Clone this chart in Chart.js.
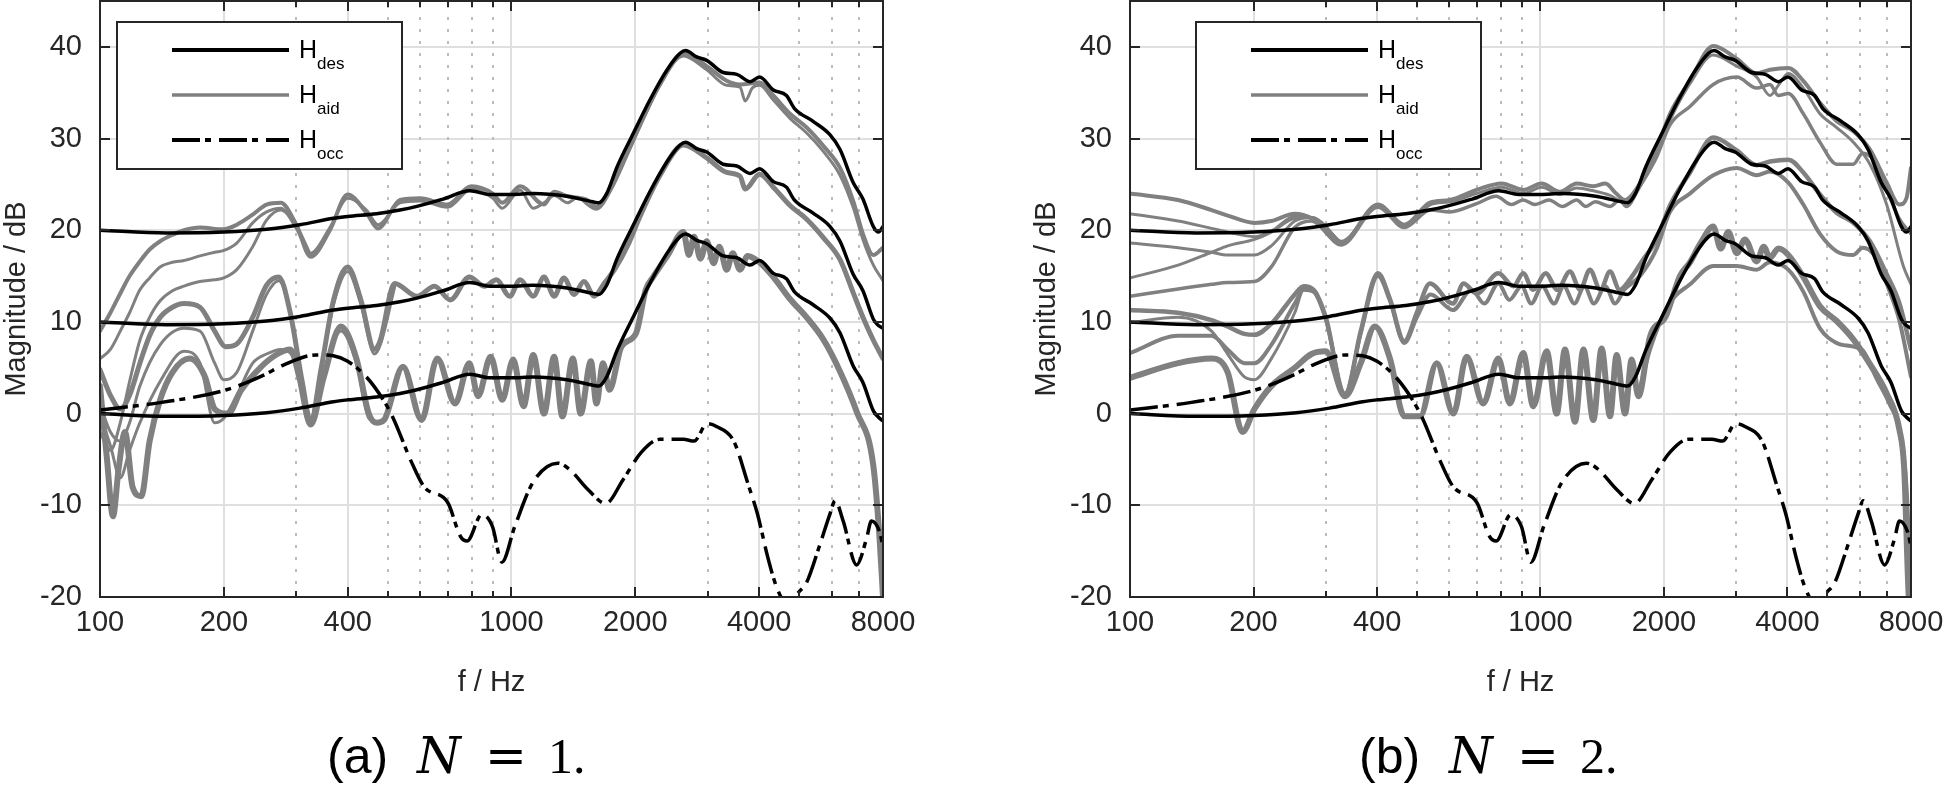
<!DOCTYPE html>
<html lang="en">
<head>
<meta charset="UTF-8">
<title>Magnitude responses</title>
<script src="https://cdn.jsdelivr.net/npm/chart.js"></script>
<style>
    body {
        margin: 0;
        background: #fff;
        width: 1946px;
        height: 788px;
        position: relative;
        overflow: hidden;
    }
    canvas { position: absolute; top: 0; }
    #left { left: 0; }
    #right { left: 1030px; }
    .cap {
        position: absolute;
        top: 726px;
        font-family: 'Liberation Serif', serif;
        font-size: 50px;
        line-height: 60px;
        white-space: nowrap;
        color: #000;
    }
    .cap .sf { display: inline-block; width: 90px; font-family: 'Liberation Sans', sans-serif; }
    .cap .n { display: inline-block; width: 68px; font-style: italic; font-family: 'DejaVu Serif', serif; font-weight: 300; }
    .cap .eq { display: inline-block; width: 63px; font-family: 'DejaVu Serif', serif; }
</style>
</head>
<body>
<canvas id="left" width="940" height="700"></canvas>
<canvas id="right" width="916" height="700"></canvas>
<div class="cap" style="left:327px"><span class="sf">(a)</span><span class="n">N</span><span class="eq">=</span><span>1.</span></div>
<div class="cap" style="left:1359px"><span class="sf">(b)</span><span class="n">N</span><span class="eq">=</span><span>2.</span></div>

<script>
// axis ticks
const xTicks = [100, 200, 400, 1000, 2000, 4000, 8000];
const xMinor = [300, 500, 600, 700, 800, 900, 3000, 5000, 6000, 7000];
const yTicks = [-20, -10, 0, 10, 20, 30, 40];

// H_des (same in both panels), [f in Hz, dB]
const desTop = [[100,20.0],[145,19.7],[200,19.8],[254,20.1],[306,20.6],[369,21.3],[400,21.5],[470,21.8],[536,22.2],[589,22.6],[682,23.4],[792,24.3],[886,23.9],[1000,23.9],[1128,24.0],[1364,23.7],[1578,23.1],[1630,23.0],[1704,24.0],[1806,26.9],[1980,30.6],[2170,34.2],[2390,37.5],[2570,39.3],[2650,39.6],[2820,38.9],[2990,38.5],[3270,37.2],[3530,37.0],[3800,36.2],[4010,36.7],[4330,35.3],[4660,34.7],[4870,33.3],[5400,31.9],[5950,30.4],[6290,28.8],[6770,25.2],[7150,23.4],[7580,20.4],[7800,19.8],[8000,20.4]];
const desMid = [[100,10.0],[145,9.7],[200,9.8],[254,10.1],[306,10.6],[369,11.3],[400,11.5],[470,11.8],[536,12.2],[589,12.6],[682,13.4],[792,14.3],[886,13.9],[1000,13.9],[1128,14.0],[1364,13.7],[1578,13.1],[1630,13.0],[1704,14.0],[1806,16.9],[1980,20.6],[2170,24.2],[2390,27.5],[2570,29.3],[2650,29.6],[2820,28.9],[2990,28.5],[3270,27.2],[3530,27.0],[3800,26.2],[4010,26.7],[4330,25.3],[4660,24.7],[4870,23.3],[5400,21.9],[5950,20.4],[6290,18.8],[6770,15.2],[7150,13.4],[7580,10.3],[7800,9.6],[8000,9.3]];
const desBot = [[100,0.0],[145,-0.3],[200,-0.2],[254,0.1],[306,0.6],[369,1.3],[400,1.5],[470,1.8],[536,2.2],[589,2.6],[682,3.4],[792,4.3],[886,3.9],[1000,3.9],[1128,4.0],[1364,3.7],[1578,3.1],[1630,3.0],[1704,4.0],[1806,6.9],[1980,10.6],[2170,14.2],[2390,17.5],[2570,19.3],[2650,19.6],[2820,18.9],[2990,18.5],[3270,17.2],[3530,17.0],[3800,16.2],[4010,16.7],[4330,15.3],[4660,14.7],[4870,13.3],[5400,11.9],[5950,10.4],[6290,8.8],[6770,5.2],[7150,3.4],[7580,0.3],[7800,-0.4],[8000,-0.8]];

// H_occ
const occCurve = [[100,0.4],[140,1.2],[203,2.6],[250,4.2],[279,5.3],[336,6.4],[369,6.3],[400,5.7],[444,4.0],[488,1.5],[516,-0.5],[573,-5.4],[614,-8.0],[700,-9.7],[752,-13.4],[780,-13.9],[847,-11.0],[899,-12.3],[948,-16.2],[1019,-12.3],[1128,-7.5],[1295,-5.4],[1385,-6.1],[1536,-8.3],[1695,-9.8],[1868,-7.2],[2070,-4.2],[2297,-2.8],[2617,-2.8],[2780,-3.0],[2990,-1.1],[3150,-1.4],[3470,-3.0],[3760,-7.7],[3960,-10.9],[4200,-15.7],[4400,-18.8],[4600,-20.5],[4800,-20.8],[4950,-19.7],[5220,-18.4],[5600,-14.5],[5950,-10.9],[6120,-9.5],[6400,-11.7],[6900,-16.5],[7290,-13.7],[7500,-11.7],[7850,-12.9],[8000,-14.5]];

// H_aid, panel (a) N = 1
const aTopA = [[100,9.0],[106,11.0],[112,13.1],[118,15.0],[125,16.6],[132,17.9],[140,18.8],[150,19.5],[160,20.0],[175,20.3],[199,20.1],[215,20.6],[235,21.7],[254,22.8],[275,23.0],[300,20.6],[325,17.1],[362,20.0],[400,23.9],[444,21.9],[474,20.2],[536,23.3],[600,23.5],[699,22.8],[800,24.8],[901,24.0],[950,23.0],[1050,24.8],[1200,22.8],[1270,24.2],[1370,23.7],[1530,23.3],[1609,22.6],[1751,24.8],[1929,28.8],[2053,31.5],[2297,36.0],[2617,39.3],[2983,37.9],[3336,36.3],[3594,35.9],[4010,36.1],[4331,34.7],[4754,32.7],[5219,31.2],[5728,29.2],[6290,26.8],[6770,23.2],[7150,19.6],[7580,17.3],[8000,18.1]];
const aTopB = [[100,6.0],[106,7.0],[112,9.0],[118,11.0],[125,13.5],[132,14.8],[140,16.0],[150,16.5],[160,16.7],[175,17.2],[190,17.6],[200,17.8],[215,18.6],[235,20.8],[254,22.0],[275,22.4],[300,20.2],[325,17.5],[362,20.3],[400,23.5],[444,22.2],[474,20.6],[536,23.0],[600,23.2],[699,22.5],[800,24.5],[901,23.5],[950,22.4],[1050,24.4],[1130,22.4],[1200,23.0],[1270,23.8],[1370,23.0],[1450,23.6],[1530,22.8],[1609,22.3],[1751,24.5],[1929,28.6],[2053,31.3],[2297,35.8],[2617,39.0],[2983,37.5],[3336,35.8],[3594,35.6],[3700,34.1],[3850,35.5],[4010,35.8],[4331,34.2],[4754,32.2],[5219,30.6],[5728,28.6],[6290,26.0],[6770,22.5],[7150,19.0],[7580,16.2],[8000,14.5]];
const aTopC = [[100,-2.0],[106,-4.0],[112,-1.0],[118,3.5],[125,8.0],[132,10.5],[140,12.3],[150,13.4],[160,13.9],[175,14.4],[190,14.6],[200,14.8],[215,15.7],[235,18.2],[254,21.1],[275,22.2],[300,20.5],[325,17.3]];
const aMidD = [[100,4.8],[106,2.0],[112,0.5],[118,2.0],[125,5.5],[132,8.5],[140,10.5],[150,11.6],[160,12.0],[175,11.6],[190,9.0],[202,7.3],[215,7.6],[235,10.5],[254,14.0],[272,14.9],[290,11.0],[310,3.5],[325,-0.8],[345,5.0],[370,12.5],[400,16.0],[430,12.5],[465,7.0],[480,8.0],[520,14.2],[590,12.8],[650,13.9],[710,12.4],[790,14.9],[860,13.9],[920,14.6],[990,12.8],[1050,14.6],[1130,12.8],[1200,14.9],[1270,12.8],[1341,14.8],[1420,13.0],[1500,14.4],[1590,12.8],[1680,14.2],[1780,15.7],[1929,18.6],[2053,21.5],[2297,26.0],[2617,29.3],[2983,27.9],[3336,26.3],[3594,25.9],[3700,24.5],[4010,26.1],[4331,24.7],[4754,22.7],[5219,21.2],[5728,19.2],[6290,16.8],[6770,13.2],[7150,10.5],[7580,8.0],[8000,6.0]];
const aMidE = [[100,1.0],[106,-2.0],[112,-3.0],[118,-1.0],[125,3.0],[140,7.5],[160,9.3],[175,9.0],[190,5.5],[200,3.7],[215,4.5],[235,9.0],[254,13.0],[272,14.5],[290,11.0],[310,3.5],[325,-0.5],[345,5.0],[370,12.0],[400,15.5],[430,12.0],[465,6.5],[480,7.5],[520,13.8]];
const aBotF = [[100,0.0],[106,-3.5],[112,-7.0],[118,-4.0],[125,-1.0],[140,3.5],[160,6.8],[175,5.5],[190,-1.0],[200,-0.5],[215,2.0],[235,5.5],[254,6.5],[275,7.0],[300,5.5],[325,-1.0],[350,4.0],[385,9.0],[420,5.5],[450,-0.5],[475,-1.0]];
const aBotG = [[100,3.0],[104,-5.0],[107.5,-11.2],[111,-6.0],[115,-2.0],[120,-8.0],[126,-9.0],[132,-3.0],[140,1.5],[150,4.5],[165,6.0],[180,4.0],[190,0.5],[205,0.0],[220,2.5],[245,5.0],[270,6.5],[290,7.0],[305,4.0],[325,-1.2],[350,4.0],[385,9.5],[420,6.0],[450,0.0],[470,-1.0],[490,-0.7],[545,5.1],[605,-0.7],[660,6.0],[730,1.1],[790,5.5],[830,1.9],[890,6.2],[950,1.5],[1010,5.9],[1070,0.8],[1130,6.4],[1200,0.0],[1270,6.2],[1330,-0.3],[1410,6.0],[1473,0.0],[1560,5.7],[1609,1.1],[1670,5.5],[1730,2.6],[1850,7.3],[2010,8.8],[2120,13.5],[2210,14.9],[2400,17.3],[2617,19.8],[2700,17.3],[2780,19.3],[2880,16.9],[2983,18.8],[3100,16.4],[3200,18.2],[3336,15.7],[3450,17.5],[3594,15.7],[3750,17.2],[4010,16.5],[4331,14.9],[4754,12.5],[5219,10.5],[5728,8.1],[6290,4.6],[6905,0.2],[7580,-5.7],[7850,-13.7],[8000,-20.0]];

// H_aid, panel (b) N = 2
const bTopA = [[100,24.0],[131,23.3],[158,22.2],[173,21.6],[201,20.8],[221,21.0],[252,21.8],[277,21.3],[327,18.6],[402,22.8],[466,20.6],[538,23.0],[602,23.3],[699,24.4],[805,25.1],[908,24.4],[1007,25.1],[1116,24.2],[1226,25.1],[1346,24.8],[1440,25.1],[1530,24.0],[1607,23.3],[1748,25.1],[1920,28.8],[2069,32.7],[2315,36.3],[2638,40.1],[3009,38.7],[3365,37.1],[3626,37.5],[4019,37.7],[4372,36.3],[4800,33.9],[5272,31.9],[5788,30.8],[6355,28.8],[6978,25.2],[7500,22.8],[7800,23.5],[8000,26.8]];
const bTopB = [[100,12.8],[131,13.6],[158,14.1],[173,14.3],[201,14.4],[221,16.0],[252,20.3],[277,21.0],[327,18.4],[402,22.5],[466,20.3],[540,22.2],[602,22.0],[699,22.9],[780,23.7],[850,22.8],[908,23.3],[970,22.8],[1050,23.3],[1130,22.6],[1226,23.3],[1290,22.6],[1360,23.1],[1478,22.6],[1560,23.3],[1620,22.6],[1748,24.8],[1920,28.0],[2069,31.5],[2315,33.5],[2638,35.9],[3009,36.7],[3365,35.5],[3626,35.9],[3800,34.7],[4019,34.9],[4372,32.7],[4800,29.6],[5272,27.2],[5788,27.2],[6100,28.4],[6500,27.6],[7100,23.6],[7500,21.2],[8000,19.6]];
const bTopC = [[100,18.6],[131,18.1],[158,17.6],[173,17.3],[201,17.3],[221,18.3],[252,21.0],[277,21.4],[327,18.8],[402,22.6],[466,20.5],[540,22.8],[602,23.1],[699,24.0],[805,24.7],[908,24.0],[1007,24.7],[1116,23.9],[1226,24.6],[1346,24.3],[1478,23.8],[1607,23.0],[1748,24.8],[1920,28.5],[2069,32.0],[2315,36.0],[2638,39.1],[3009,37.9],[3365,36.7],[3626,34.7],[3800,35.8],[4019,37.1],[4372,35.5],[4800,32.7],[5272,31.2],[5788,29.6],[6355,27.2],[6978,22.8],[7662,16.1],[8000,14.1]];
const bTopD = [[100,21.8],[131,21.0],[158,20.2],[173,19.8],[201,19.3],[221,19.9],[252,21.5],[277,21.4],[327,18.6]];
const bTopE = [[100,14.8],[131,16.2],[158,17.6],[173,18.3],[201,19.0],[221,19.8],[252,21.3],[277,21.4],[327,18.6]];
const bMidA = [[100,11.3],[131,11.0],[158,10.2],[173,9.5],[190,8.7],[201,8.6],[221,9.8],[252,13.0],[265,13.9],[280,13.5],[300,10.5],[334,1.9],[365,9.0],[402,15.3],[430,12.5],[466,7.9],[500,11.0],[538,14.2],[612,12.0],[650,14.2],[699,13.1],[790,15.3],[860,13.9],[908,15.3],[960,13.5],[1030,15.3],[1100,13.5],[1180,15.5],[1250,13.5],[1320,15.7],[1400,13.5],[1478,15.5],[1560,13.5],[1650,14.6],[1780,16.8],[1920,19.0],[2069,22.7],[2315,26.3],[2638,30.1],[3009,28.7],[3365,27.1],[3626,27.5],[4019,27.7],[4372,26.3],[4800,23.9],[5272,21.9],[5788,20.8],[6355,18.8],[6978,15.2],[7500,12.0],[8000,7.0]];
const bMidB = [[100,6.6],[131,8.5],[158,8.5],[173,7.0],[190,5.5],[201,5.5],[221,7.5],[252,12.0],[265,13.5],[280,13.3],[300,10.3],[334,2.2],[365,8.8],[402,15.0],[430,12.3],[466,7.7],[500,10.5],[540,13.0],[612,11.3],[680,13.5],[730,12.0],[790,14.2],[840,12.4],[900,13.9],[950,12.0],[1010,13.9],[1080,12.0],[1140,13.9],[1210,12.0],[1280,13.9],[1350,12.0],[1440,13.9],[1520,12.0],[1600,13.5],[1748,15.0],[1920,18.0],[2069,22.0],[2315,24.0],[2638,26.0],[3009,26.8],[3365,26.0],[3626,26.4],[4019,25.2],[4372,22.8],[4800,19.6],[5272,17.7],[5788,17.3],[6100,18.1],[6500,17.3],[7100,13.3],[7500,10.1],[8000,4.0]];
const bMidC = [[100,9.9],[131,10.5],[158,9.0],[173,6.5],[190,4.0],[201,3.7],[221,6.0],[252,11.0],[265,13.5],[280,13.5],[300,10.5]];
const bBotA = [[100,3.9],[131,5.5],[158,6.0],[173,4.5],[188,-2.0],[201,0.5],[221,3.0],[252,5.0],[277,6.5],[300,6.8],[334,1.9],[365,5.5],[395,9.5],[430,6.0],[466,-0.3],[509,-0.3],[559,5.5],[614,0.0],[661,6.2],[726,1.1],[790,6.0],[843,1.1],[908,6.6],[961,0.8],[1036,6.8],[1096,0.0],[1148,7.0],[1214,-0.9],[1273,7.0],[1346,-0.7],[1410,7.1],[1478,-0.3],[1534,6.4],[1608,0.0],[1669,5.9],[1733,1.9],[1850,8.4],[2020,10.6],[2188,15.0],[2315,16.5],[2450,18.5],[2638,20.4],[2750,18.0],[2870,19.8],[3009,17.5],[3150,19.0],[3365,16.6],[3500,18.2],[3626,17.0],[3800,18.0],[4019,17.3],[4372,14.9],[4800,11.7],[5272,10.1],[5788,8.1],[6355,5.4],[6978,2.2],[7500,-1.8],[7700,-6.0],[7900,-20.0],[8000,-22.0]];
const bBotB = [[1733,2.0],[1850,7.0],[2069,12.1],[2315,14.1],[2638,16.1],[3009,16.1],[3365,15.7],[3626,16.5],[4019,15.7],[4372,13.3],[4800,9.3],[5272,7.7],[5788,7.3],[6100,6.9],[6600,3.8],[7100,1.0],[7500,-1.8],[7800,-8.0],[8000,-20.0]];

const legendItems = [
    { sub: 'des', color: '#000', w: 4, dash: [] },
    { sub: 'aid', color: '#808080', w: 3.5, dash: [] },
    { sub: 'occ', color: '#000', w: 4, dash: [28, 5, 6, 8] }
];

Chart.defaults.font.family = "'Liberation Sans', Arial, sans-serif";
Chart.defaults.color = '#262626';

const FONT = "'Liberation Sans', Arial, sans-serif";

const framePlugin = {
    id: 'frame',
    beforeDatasetsDraw(chart) {
        const { ctx, chartArea: a, scales: { x, y } } = chart;
        ctx.save();
        ctx.lineWidth = 2;
        ctx.strokeStyle = '#dfdfdf';
        ctx.beginPath();
        xTicks.slice(1, -1).forEach(v => {
            const px = Math.round(x.getPixelForValue(v));
            ctx.moveTo(px, a.top); ctx.lineTo(px, a.bottom);
        });
        yTicks.slice(1).forEach(v => {
            const py = Math.round(y.getPixelForValue(v));
            ctx.moveTo(a.left, py); ctx.lineTo(a.right, py);
        });
        ctx.stroke();
        // dotted minor grid
        ctx.setLineDash([3, 9]);
        ctx.strokeStyle = '#bdbdbd';
        ctx.beginPath();
        xMinor.forEach(v => {
            const px = Math.round(x.getPixelForValue(v));
            ctx.moveTo(px, a.top + 4); ctx.lineTo(px, a.bottom);
        });
        ctx.stroke();
        ctx.restore();
    },
    afterDatasetsDraw(chart) {
        const { ctx, chartArea: a, scales: { x, y } } = chart;
        ctx.save();
        ctx.strokeStyle = '#262626';
        ctx.lineWidth = 2;
        ctx.strokeRect(a.left, a.top, a.right - a.left, a.bottom - a.top);
        ctx.beginPath();
        const tick = (v, len) => {
            const px = Math.round(x.getPixelForValue(v));
            ctx.moveTo(px, a.bottom); ctx.lineTo(px, a.bottom - len);
            ctx.moveTo(px, a.top); ctx.lineTo(px, a.top + len);
        };
        xTicks.slice(1, -1).forEach(v => tick(v, 10));
        xMinor.forEach(v => tick(v, 6));
        yTicks.slice(1).forEach(v => {
            const py = Math.round(y.getPixelForValue(v));
            ctx.moveTo(a.left, py); ctx.lineTo(a.left + 10, py);
            ctx.moveTo(a.right, py); ctx.lineTo(a.right - 10, py);
        });
        ctx.stroke();
        ctx.restore();
    }
};

const legendPlugin = {
    id: 'hLegend',
    afterDraw(chart, args, opts) {
        const { ctx, chartArea: a } = chart;
        const bx = a.left + opts.left, by = a.top + 21, bw = 285, bh = 147;
        ctx.save();
        ctx.fillStyle = '#fff';
        ctx.fillRect(bx, by, bw, bh);
        ctx.lineWidth = 2;
        ctx.strokeStyle = '#262626';
        ctx.strokeRect(bx, by, bw, bh);
        legendItems.forEach((it, i) => {
            const ly = by + 28 + i * 45;
            ctx.beginPath();
            ctx.setLineDash(it.dash);
            ctx.lineWidth = it.w;
            ctx.strokeStyle = it.color;
            ctx.moveTo(bx + 55, ly); ctx.lineTo(bx + 172, ly);
            ctx.stroke();
            ctx.setLineDash([]);
            ctx.fillStyle = '#000';
            ctx.font = '25px ' + FONT;
            ctx.fillText('H', bx + 182, ly + 8);
            ctx.font = '17px ' + FONT;
            ctx.fillText(it.sub, bx + 200, ly + 19);
        });
        ctx.restore();
    }
};

function toXY(pts) {
    return pts.map(p => ({ x: p[0], y: p[1] }));
}

function buildDatasets(grayList) {
    const ds = [];
    [desTop, desMid, desBot].forEach(c => ds.push({
        data: toXY(c), borderColor: '#000', borderWidth: 3.5, order: 0
    }));
    ds.push({
        data: toXY(occCurve), borderColor: '#000', borderWidth: 3.5,
        borderDash: [28, 5, 6, 8], borderCapStyle: 'butt', order: 1
    });
    grayList.forEach(g => ds.push({
        data: toXY(g.pts), borderColor: '#808080', borderWidth: g.w, order: 2
    }));
    return ds;
}

function makePanel(id, grayList, legendLeft, padRight) {
    new Chart(document.getElementById(id), {
        type: 'line',
        data: { datasets: buildDatasets(grayList) },
        options: {
            responsive: false,
            animation: false,
            events: [],
            elements: {
                point: { radius: 0 },
                line: { cubicInterpolationMode: 'monotone', fill: false, borderJoinStyle: 'round', borderCapStyle: 'round' }
            },
            layout: { padding: { left: 0, top: 1, right: padRight, bottom: 0 } },
            plugins: {
                legend: { display: false },
                tooltip: { enabled: false },
                hLegend: { left: legendLeft }
            },
            scales: {
                x: {
                    type: 'logarithmic', min: 100, max: 8000,
                    grid: { display: false, drawTicks: false, tickLength: 0 },
                    border: { display: false },
                    afterBuildTicks: s => { s.ticks = xTicks.map(v => ({ value: v })); },
                    afterFit: s => { s.height = 103; s.paddingLeft = 0; s.paddingRight = 0; },
                    ticks: { callback: v => String(v), font: { size: 29 }, padding: 9, maxRotation: 0, minRotation: 0, autoSkip: false },
                    title: { display: true, text: 'f / Hz', font: { size: 29 }, padding: 0 }
                },
                y: {
                    min: -20, max: 45,
                    grid: { display: false, drawTicks: false, tickLength: 0 },
                    border: { display: false },
                    afterBuildTicks: s => { s.ticks = yTicks.map(v => ({ value: v })); },
                    afterFit: s => { s.width = 100; s.paddingTop = 0; s.paddingBottom = 0; },
                    ticks: { font: { size: 29 }, padding: 18 },
                    title: { display: true, text: 'Magnitude / dB', font: { size: 29 }, padding: 0 }
                }
            }
        },
        plugins: [framePlugin, legendPlugin]
    });
}

makePanel('left', [
    { pts: aTopA, w: 4 }, { pts: aTopB, w: 3 }, { pts: aTopC, w: 3 },
    { pts: aMidD, w: 5 }, { pts: aMidE, w: 3 },
    { pts: aBotF, w: 3 }, { pts: aBotG, w: 6 }
], 17, 57);

makePanel('right', [
    { pts: bTopA, w: 4 }, { pts: bTopB, w: 3.5 }, { pts: bTopC, w: 3 }, { pts: bTopD, w: 3 }, { pts: bTopE, w: 3 },
    { pts: bMidA, w: 4.5 }, { pts: bMidB, w: 4 }, { pts: bMidC, w: 3 },
    { pts: bBotA, w: 6 }, { pts: bBotB, w: 4 }
], 66, 35);
</script>
</body>
</html>
